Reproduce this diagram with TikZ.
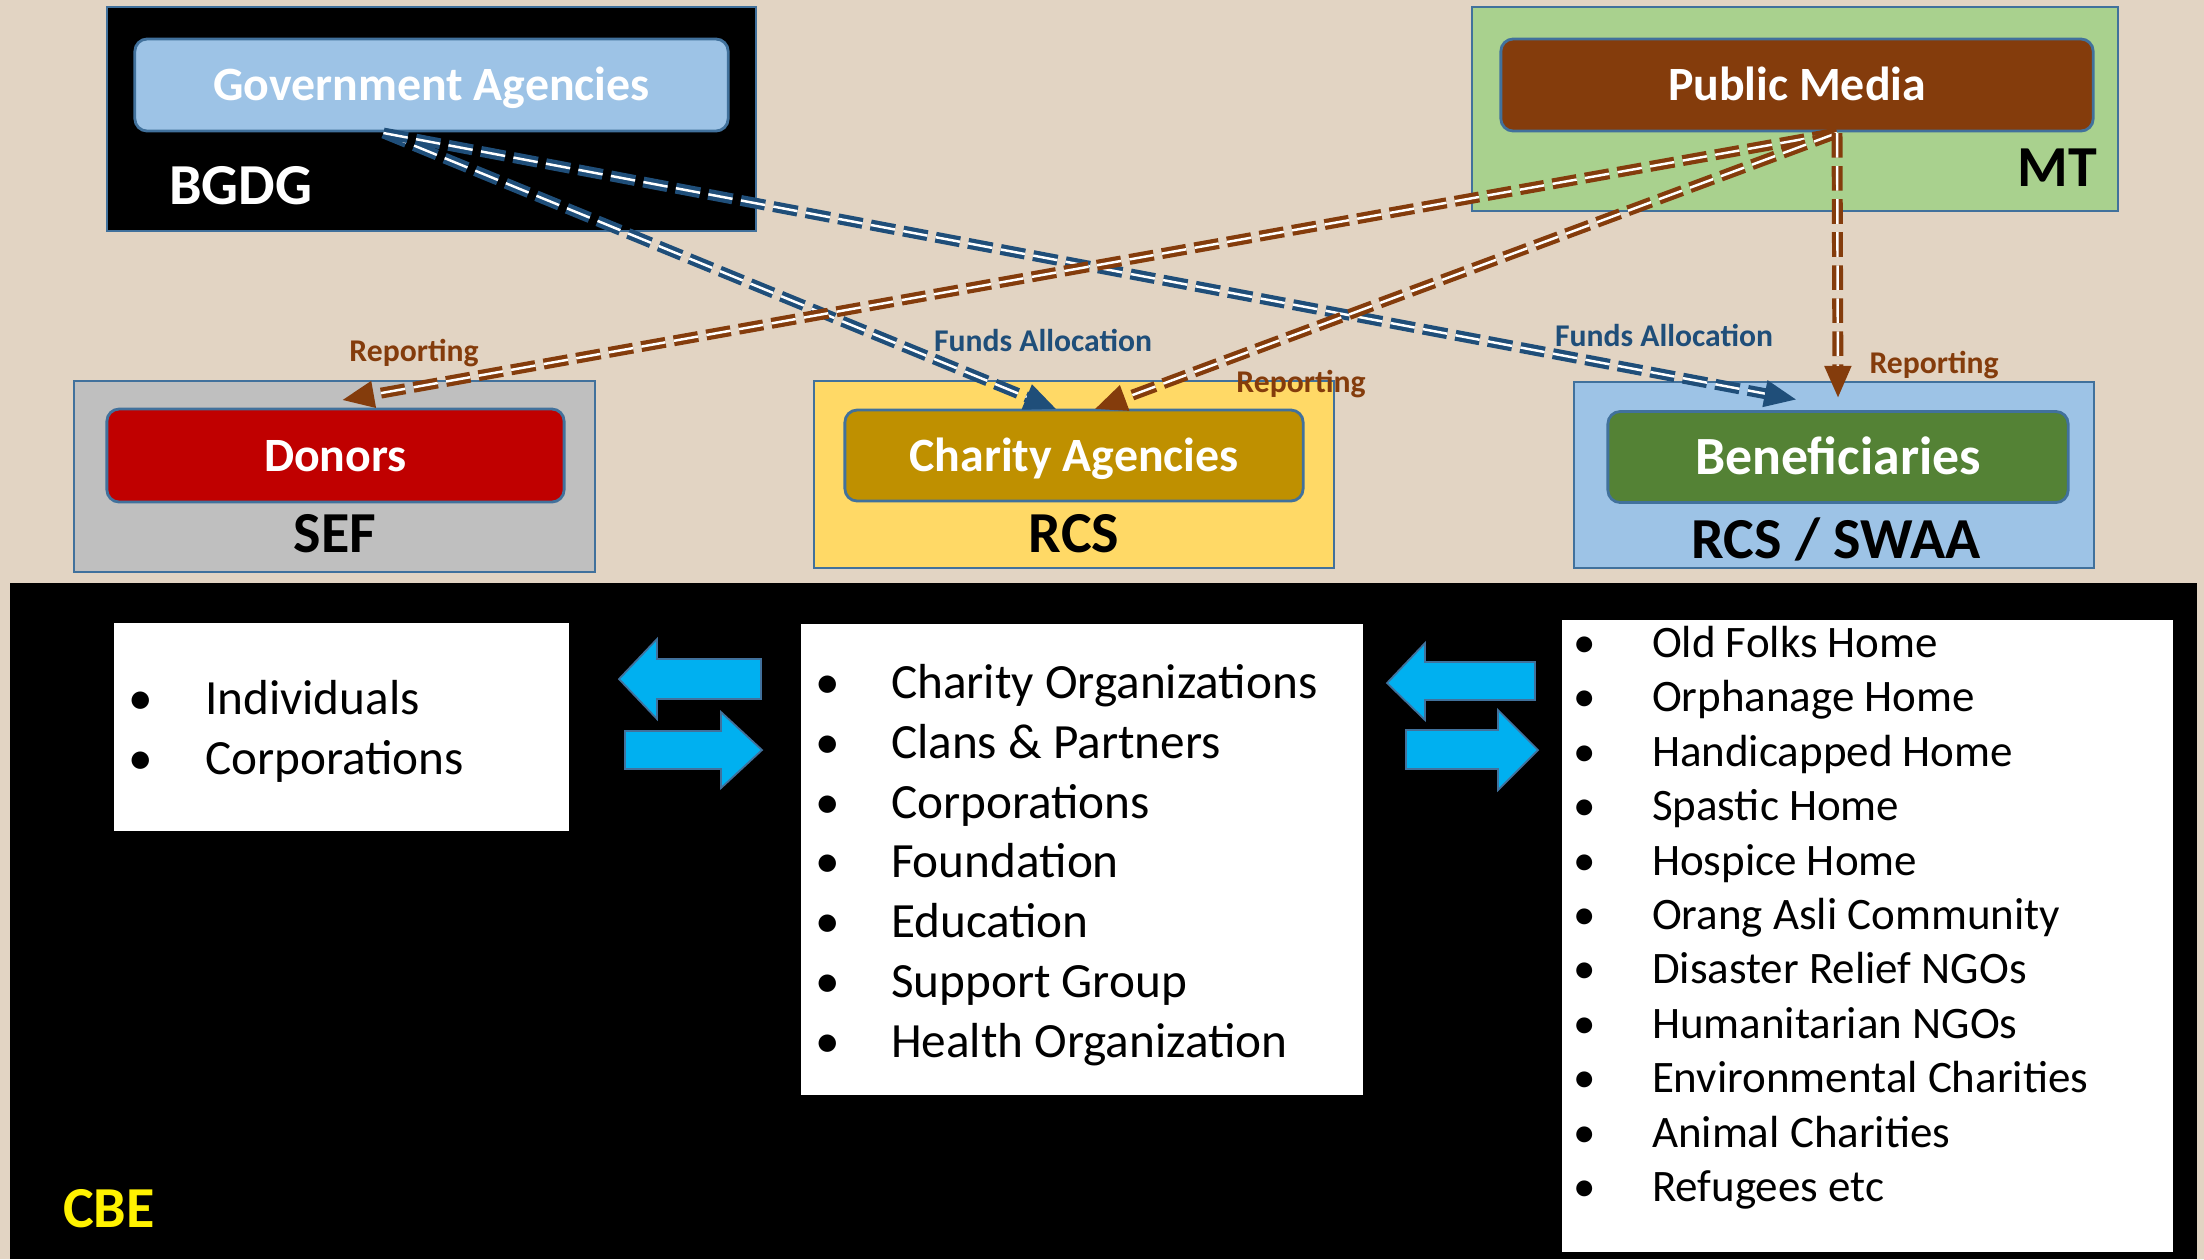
\documentclass[tikz,border=0pt]{standalone}
\usepackage{fontspec}
\setmainfont{Carlito}
\usepackage{tikz}
\usetikzlibrary{arrows.meta}
\usetikzlibrary{calc}

\definecolor{paper}{HTML}{E2D4C3}
\definecolor{edgeblue}{HTML}{41719C}
\definecolor{fundblue}{HTML}{1F4E79}
\definecolor{reportbrown}{HTML}{843C0C}
\definecolor{govblue}{HTML}{9DC3E6}
\definecolor{mediagreen}{HTML}{A9D18E}
\definecolor{donorred}{HTML}{C00000}
\definecolor{sefgray}{HTML}{BFBFBF}
\definecolor{rcsyellow}{HTML}{FFD966}
\definecolor{charitygold}{HTML}{BF9000}
\definecolor{benefgreen}{HTML}{548235}
\definecolor{swapcyan}{HTML}{00B0F0}

\begin{document}
\begin{tikzpicture}[x=0.01cm,y=-0.01cm,
		every node/.style={inner sep=0pt,outer sep=0pt},
		frame/.style={rectangle,draw=edgeblue,line width=0.6pt},
		agency/.style={rectangle,rounded corners=3.5pt,draw=edgeblue,line width=0.8pt,
			text=white,text height=8.8pt,text depth=0pt,font=\fontsize{13.6}{16}\selectfont\bfseries},
		tag/.style={font=\fontsize{16.5}{20}\selectfont\bfseries},
		flow/.style={line width=1.2pt,double=white,double distance=0.7pt,
			dash pattern=on 7pt off 2.4pt,-{Triangle[length=9pt,width=7.5pt]}},
		note/.style={font=\fontsize{9}{11}\selectfont\bfseries},
		listbox/.style={rectangle,fill=white},
		entry/.style={anchor=mid west},
		dot/.style={anchor=mid},
		swap/.style={fill=swapcyan,draw=edgeblue,line width=0.5pt}]
	
	\useasboundingbox (0,0) rectangle (2204,1259);
	\fill[paper] (0,0) rectangle (2204,1259);
	
	% upper level
	\node[frame,fill=black,minimum width=6.49cm,minimum height=2.24cm] (bgdg) at (431.5,119) {};
	\node[frame,fill=mediagreen,minimum width=6.46cm,minimum height=2.04cm] (mt) at (1795,109) {};
	\node[agency,fill=govblue,minimum width=5.93cm,minimum height=0.92cm] (gov) at (431.5,85) {Government Agencies};
	\node[agency,fill=reportbrown,minimum width=5.92cm,minimum height=0.92cm] (media) at (1797,85) {Public Media};
	\node[tag,text=white,anchor=west] (bgdg-tag) at (169,186) {BGDG};
	\node[tag,anchor=east] (mt-tag) at (2097,168) {MT};
	
	% middle level
	\node[frame,fill=sefgray,minimum width=5.21cm,minimum height=1.91cm] (sef) at (334.5,476.5) {};
	\node[frame,fill=rcsyellow,minimum width=5.20cm,minimum height=1.87cm] (rcs) at (1074,474.5) {};
	\node[frame,fill=govblue,minimum width=5.20cm,minimum height=1.86cm] (swaa) at (1834,475) {};
	\node[agency,fill=donorred,minimum width=4.57cm,minimum height=0.93cm] (donors) at (335.5,455.5) {Donors};
	\node[agency,fill=charitygold,minimum width=4.58cm,minimum height=0.91cm] (charity) at (1074,455.5) {Charity Agencies};
	\node[agency,fill=benefgreen,minimum width=4.60cm,minimum height=0.91cm,text height=9.9pt,
		font=\fontsize{15.3}{18}\selectfont\bfseries] (benef) at (1838,457) {Beneficiaries};
	\node[tag] (sef-tag) at (335,534) {SEF};
	\node[tag] (rcs-tag) at (1074,534) {RCS};
	\node[tag] (swaa-tag) at (1836,539) {RCS / SWAA};
	
	% flows
	\draw[flow,fundblue] ($(gov.south)+(-48,2)$) -- ($(charity.north)+(-18,-1)$);
	\draw[flow,fundblue] ($(gov.south)+(-48,2)$) -- ($(benef.north)+(-42,-12)$);
	\draw[flow,reportbrown] ($(media.south)+(40,2)$) -- ($(donors.north)+(7,-9)$);
	\draw[flow,reportbrown] ($(media.south)+(40,2)$) -- ($(charity.north)+(21,-1)$);
	\draw[flow,reportbrown] ($(media.south)+(40,2)$) -- ($(benef.north)+(0,-14)$);
	
	\node[note,text=reportbrown] (rep-donors) at (414,353) {Reporting};
	\node[note,text=fundblue] (fund-charity) at (1043,340) {Funds Allocation};
	\node[note,text=reportbrown] (rep-charity) at (1301,384) {Reporting};
	\node[note,text=fundblue] (fund-benef) at (1664,335) {Funds Allocation};
	\node[note,text=reportbrown] (rep-benef) at (1934,365) {Reporting};
	
	% lower level
	\node[rectangle,fill=black,minimum width=21.85cm,minimum height=6.76cm] (cbe) at (1103.5,921) {};
	\node[tag,text=yellow,anchor=west] (cbe-tag) at (63,1209) {CBE};
	
	\node[listbox,minimum width=4.55cm,minimum height=2.08cm] (left) at (341.5,727) {};
	\node[listbox,minimum width=5.62cm,minimum height=4.71cm] (mid) at (1082,859.5) {};
	\node[listbox,minimum width=6.11cm,minimum height=6.32cm] (right) at (1867.5,936) {};
	
	\begin{scope}[every node/.append style={font=\fontsize{14}{17}\selectfont}]
		\foreach \what [count=\k] in {Individuals,Corporations}{
			\node[dot] (leftb-\k) at (141,{706+60*(\k-1)}) {\textbullet};
			\node[entry] (left-\k) at (205,{706+60*(\k-1)}) {\what};
		}
		\foreach \what [count=\k] in {Charity Organizations,Clans \& Partners,Corporations,
			Foundation,Education,Support Group,Health Organization}{
			\node[dot] (midb-\k) at (828,{690+59.8*(\k-1)}) {\textbullet};
			\node[entry] (mid-\k) at (891,{690+59.8*(\k-1)}) {\what};
		}
	\end{scope}
	\begin{scope}[every node/.append style={font=\fontsize{12.8}{15}\selectfont}]
		\foreach \what [count=\k] in {Old Folks Home,Orphanage Home,Handicapped Home,Spastic Home,
			Hospice Home,Orang Asli Community,Disaster Relief NGOs,Humanitarian NGOs,
			Environmental Charities,Animal Charities,Refugees etc}{
			\node[dot] (rightb-\k) at (1585,{649+54.4*(\k-1)}) {\textbullet};
			\node[entry] (right-\k) at (1652,{649+54.4*(\k-1)}) {\what};
		}
	\end{scope}
	
	% exchange arrows
	\draw[swap] (619,679) -- (657,639) -- (657,659) -- (761,659) -- (761,699) -- (657,699) -- (657,719) -- cycle;
	\draw[swap] (762,750) -- (721,712) -- (721,731) -- (625,731) -- (625,769) -- (721,769) -- (721,788) -- cycle;
	\draw[swap] (1387,683) -- (1425,643) -- (1425,662) -- (1535,662) -- (1535,700) -- (1425,700) -- (1425,720) -- cycle;
	\draw[swap] (1538,750) -- (1498,710) -- (1498,730) -- (1406,730) -- (1406,769) -- (1498,769) -- (1498,790) -- cycle;
\end{tikzpicture}
\end{document}
